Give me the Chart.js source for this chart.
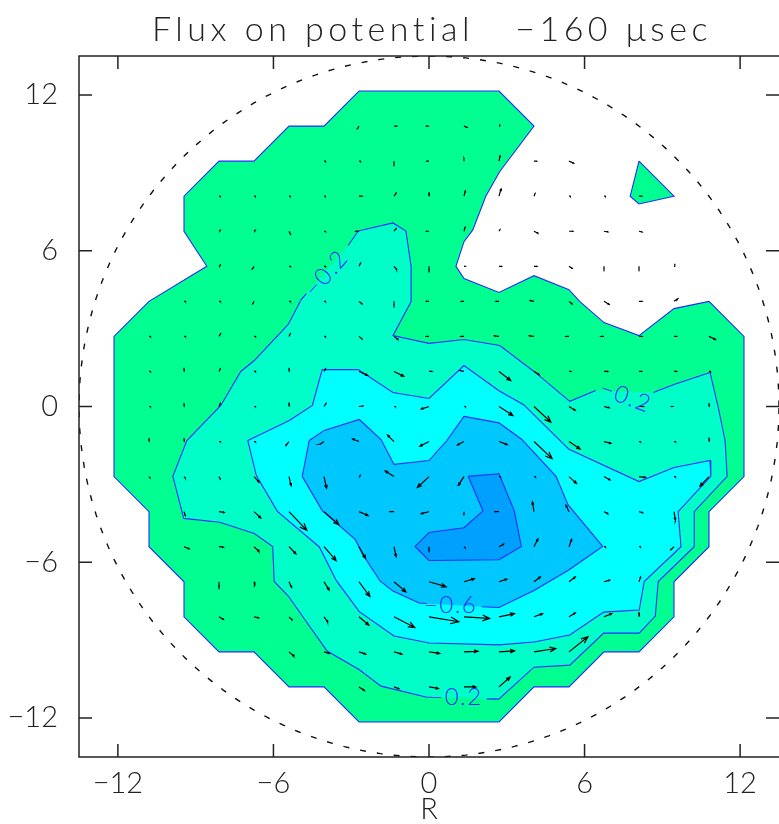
<!DOCTYPE html>
<html>
<head>
<meta charset="utf-8">
<script src="https://cdn.jsdelivr.net/npm/chart.js@4/dist/chart.umd.min.js"></script>
<style>
  html, body { margin: 0; padding: 0; background: #ffffff; }
  #wrap { width: 779px; height: 824px; }
</style>
</head>
<body>
<div id="wrap"><canvas id="c" width="779" height="824"></canvas></div>
<script>
// ---- axis ticks ----
const tickValues = [-12, -6, 0, 6, 12];

// ---- contour polygons (R, Z) ----
// level 0.0 outer boundary
const level00 = [
  [-2.7,12.15],[2.7,12.15],[4.05,10.8],[2.73,9.05],[2.19,8.1],[1.69,6.8],[1.35,6.35],[1.04,5.4],
  [1.35,4.93],[2.7,4.39],[4.05,5.04],[5.4,4.5],[5.81,4.05],[6.75,3.23],[8.1,2.73],[9.45,3.77],
  [10.8,4.05],[12.15,2.7],[12.15,-2.7],[10.8,-4.05],[10.8,-5.4],[9.45,-6.75],[9.45,-8.1],[8.1,-9.45],
  [6.75,-9.45],[5.4,-10.8],[4.05,-10.8],[2.7,-12.15],[-2.7,-12.15],[-4.05,-10.8],[-5.4,-10.8],
  [-6.75,-9.45],[-8.1,-9.45],[-9.45,-8.1],[-9.45,-6.75],[-10.8,-5.4],[-10.8,-4.05],[-12.15,-2.7],
  [-12.15,2.7],[-10.8,4.05],[-8.57,5.4],[-9.45,6.75],[-9.45,8.1],[-8.1,9.45],[-6.75,9.45],
  [-5.4,10.8],[-4.05,10.8],[-2.7,12.15]
];
// small island of level 0.0
const level00b = [[8.1,9.45],[9.45,8.1],[8.1,7.8],[7.76,8.1],[8.1,9.45]];
// level -0.2
const level02 = [
  [-2.73,6.76],[-1.39,7.07],[-0.89,6.76],[-0.69,5.39],[-0.69,4.04],[-1.39,2.73],[0,2.43],[1.35,2.58],
  [2.73,2.35],[4.05,1.35],[5.43,0.2],[6.43,0.62],[8.65,0.54],[9.45,0.85],[10.84,1.31],[11.15,0],
  [11.42,-1.31],[11.5,-2.69],[10.23,-4.05],[10.23,-5.4],[8.84,-6.74],[8.73,-8.07],[8.11,-8.73],
  [6.74,-8.73],[5.43,-9.96],[4.05,-10.04],[2.69,-11.27],[2.23,-11.26],[0.12,-11.2],[-0.12,-11.19],
  [-1.85,-10.77],[-2.7,-10.13],[-3.93,-9.42],[-5.43,-7.3],[-5.97,-6.74],[-6.03,-5.39],[-6.74,-4.89],
  [-8.07,-4.46],[-9.46,-4.31],[-9.88,-2.69],[-9.34,-1.31],[-8.03,0.04],[-7.26,1.35],[-6.74,1.77],
  [-5.43,3.16],[-4.93,4.12],[-4.73,4.35],[-3.12,6.2],[-2.73,6.76]
];
const level02Breaks = [11, 27, 46];   // segments left open for the labels
// level -0.4
const level04 = [
  [-4.12,1.42],[-2.73,1.42],[-1.39,0.54],[0,0.31],[1.35,1.58],[2.7,0.61],[3.65,0.07],[5.4,-1.65],
  [8.1,-2.89],[9.45,-2.35],[10.84,-2.08],[10.87,-2.69],[9.61,-4.05],[9.72,-5.4],[8.3,-6.74],
  [8.11,-7.84],[6.74,-7.92],[5.43,-8.8],[4.05,-9.07],[2.7,-9.18],[0,-9.11],[-1.35,-8.84],
  [-2.69,-7.9],[-3.58,-6.7],[-4.23,-5.41],[-5.85,-4.04],[-6.66,-2.66],[-6.99,-1.31],[-5.39,-0.54],
  [-4.5,0.04],[-4.12,1.42]
];
// level -0.6
const level06 = [
  [-4.62,-1.31],[-4.04,-0.92],[-2.69,-0.5],[-1.85,-1.27],[-1.35,-2.23],[0,-2.08],[0.69,-1.31],
  [1.35,-0.38],[2.7,-0.63],[3.58,-1.27],[4.9,-2.69],[5.36,-3.78],[6.7,-5.39],[5.39,-6.3],[4.05,-7.09],
  [2.7,-7.74],[2.04,-7.71],[-0.08,-7.59],[-0.38,-7.57],[-1.39,-7.11],[-1.89,-6.72],[-2.58,-5.66],
  [-2.84,-5.13],[-4.12,-4.01],[-4.89,-2.69],[-4.62,-1.31]
];
const level06Breaks = [16];
// level -0.8
const level08 = [
  [1.51,-2.69],[2.7,-2.59],[3.29,-4.02],[3.56,-5.39],[2.7,-5.9],[0,-5.93],[-0.54,-5.39],[0,-4.85],
  [1.35,-4.67],[2.08,-4.02],[1.51,-2.69]
];

// ---- contour labels: text, R, Z, angle (deg) ----
const contourLabels = [
  ['\u22120.2', -3.96, 5.12, -49],
  ['\u22120.2', 7.58, 0.38, 20],
  ['\u22120.6', 0.83, -7.67, 0],
  ['\u22120.2', 1.04, -11.21, 0]
];

// ---- flux vectors on the sampling grid ----
const gridR = [-10.8,-9.45,-8.1,-6.75,-5.4,-4.05,-2.7,-1.35,0,1.35,2.7,4.05,5.4,6.75,8.1,9.45,10.8];
const gridZ = [10.8,9.45,8.1,6.75,5.4,4.05,2.7,1.35,0,-1.35,-2.7,-4.05,-5.4,-6.75,-8.1,-9.45,-10.8];
const n = null;
const fluxU = [
  [n,n,n,n,n,n,-0.06,0.1,-0.1,0.12,0.03,n,n,n,n,n,n],
  [n,n,n,n,n,0.07,0.07,0,-0.08,0,0.04,0.1,0.18,n,n,n,n],
  [n,n,0.06,0.06,0.06,0.06,0.12,0.08,0,0.05,0.08,0.04,0.06,0.06,0.1,n,n],
  [n,n,0.05,0.05,0.06,0.07,-0.12,0.08,-0.1,0.04,0.04,0.15,0.15,0.15,0.12,n,n],
  [n,n,0.05,-0.06,0.07,0.07,0.06,0.1,0,0.05,0.1,0.12,0.12,0,0,0.03,n],
  [n,0.07,0.07,-0.05,0.07,0.07,0.12,0,-0.1,-0.1,-0.12,-0.15,0.12,0.2,0.12,0.15,n],
  [0.07,0.07,0.06,0.07,0.05,0.07,0.12,0.15,-0.1,-0.12,-0.18,-0.18,-0.12,-0.12,0.12,0.1,0.25],
  [0.07,0,0.05,0.07,0,0.06,0.33,0.38,0.12,-0.15,0.45,0.2,0.08,0.15,0.1,0.1,0.07],
  [0.07,0,0.05,0.07,0,0.08,0.15,0.07,-0.3,0.07,0.54,0.65,0.24,0.2,0.18,-0.1,0],
  [0,0,0.07,0.07,-0.12,-0.15,-0.25,-0.25,-0.35,-0.25,0.32,0.7,0.43,0.27,0.07,0.07,0],
  [0.04,0.05,0.05,0.2,0.08,0.1,0.05,-0.34,-0.45,-0.22,0.07,0.07,0.29,0.23,0.25,0.07,-0.35],
  [n,0.05,0.2,0.26,0.69,0.57,0.35,-0.15,-0.3,0,-0.15,-0.06,-0.12,0.15,0.14,0.05,n],
  [n,0.2,0.17,0.19,0.27,0.47,0.25,0.08,0,0.05,0.18,0.15,0.1,0.07,0.07,-0.12,n],
  [n,n,0,0.03,0.1,0.2,0.42,0.46,0.66,0.4,0.3,0.24,0.24,0.22,0.06,n,n],
  [n,n,0.17,0.18,0.12,0.14,0.38,0.8,1.15,0.99,0.6,0.33,0.24,0.3,0,n,n],
  [n,n,n,n,0.19,0.2,0.26,0.31,0.41,0.54,0.6,0.84,0.73,n,n,n,n],
  [n,n,n,n,n,n,0.21,0.19,0.36,0.46,0.43,n,n,n,n,n,n]
];
const fluxV = [
  [n,n,n,n,n,n,-0.1,0,0,-0.05,0.08,n,n,n,n,n,n],
  [n,n,n,n,n,0,0,-0.1,0,0.1,0.2,0,-0.08,n,n,n,n],
  [n,n,0,0,0,0,0,0.12,0.12,0.2,0.28,0.1,0,0,0,n,n],
  [n,n,0.04,0.04,-0.12,0,0,0.1,0,0.15,0.06,-0.08,0,-0.03,-0.03,n,n],
  [n,n,0.05,-0.1,0,0,0.12,-0.12,-0.15,0,0,0,-0.08,-0.1,-0.1,0.1,n],
  [n,0,0,-0.1,0,0,-0.1,-0.15,0,0,0,0.03,-0.1,-0.12,0,0.1,n],
  [0,0,0.1,0,0.1,0,-0.1,-0.12,0,0,0.02,0.02,0,0,0,0,-0.12],
  [0,0.1,0.1,0,0.1,0.1,-0.15,-0.19,0,0.03,-0.35,-0.12,0,0,0,0,0],
  [0,0.1,0.12,0,0.12,0.12,0.02,0,-0.1,0,-0.35,-0.6,-0.15,-0.05,0,0,0.1],
  [0.1,0.1,0,0,-0.15,-0.1,0.1,0.25,-0.18,-0.13,-0.12,-0.66,-0.29,-0.07,0,0,0.12],
  [-0.05,-0.05,-0.1,-0.22,-0.35,-0.45,0.05,0.22,-0.42,-0.33,0,0,-0.26,-0.13,-0.03,0,-0.37],
  [n,-0.15,-0.03,-0.24,-0.72,-0.5,-0.15,0,-0.08,-0.12,0,0.37,0.25,-0.08,-0.04,-0.32,n],
  [n,-0.08,-0.02,-0.18,-0.28,-0.54,-0.45,-0.38,-0.12,-0.04,0.1,0.3,0.28,0,0,-0.12,n],
  [n,n,-0.2,-0.15,-0.22,-0.32,-0.57,-0.39,-0.19,0.12,0.1,0.18,0.18,0.06,0.18,n,n],
  [n,n,-0.1,-0.04,-0.12,-0.19,-0.32,-0.41,-0.19,-0.06,0.12,0.12,0.15,0.12,0.15,n,n],
  [n,n,n,n,-0.17,-0.06,-0.09,-0.09,-0.06,0.02,0.04,0.13,0.58,n,n,n,n],
  [n,n,n,n,n,n,-0.14,-0.07,-0.06,0,0.38,n,n,n,n,n,n]
];

const wallRadius = 13.5;

// ---- styling ----
const FONT = 'Lato, "DejaVu Sans", sans-serif';
const LINE_BLUE = 'rgb(40,40,255)';
const FILLS = ['#00ff90', '#00ffc8', '#00ffff', '#00c8ff', '#00a0ff'];
const GAP = { x: NaN, y: NaN };

const toPts = arr => arr.map(p => ({ x: p[0], y: p[1] }));

// a filled band (no outline) and its outline drawn separately,
// so the outline can be opened where a level label sits
function contourSets(poly, fillColor, order, breaks) {
  const outline = [];
  poly.forEach((p, i) => {
    outline.push({ x: p[0], y: p[1] });
    if (breaks && breaks.includes(i)) outline.push(GAP);
  });
  return [
    {
      data: toPts(poly),
      borderWidth: 0,
      borderColor: 'rgba(0,0,0,0)',
      backgroundColor: fillColor,
      fill: 'shape',
      pointRadius: 0,
      tension: 0,
      order: order + 0.5
    },
    {
      data: outline,
      borderColor: LINE_BLUE,
      borderWidth: 1.1,
      fill: false,
      pointRadius: 0,
      tension: 0,
      spanGaps: false,
      order: order
    }
  ];
}

// arrows: shaft + open head, split by NaN gaps
function arrowPoints() {
  const pts = [];
  const headAng = 22 * Math.PI / 180;
  for (let r = 0; r < gridZ.length; r++) {
    for (let c = 0; c < gridR.length; c++) {
      const u = fluxU[r][c], v = fluxV[r][c];
      if (u === null || v === null) continue;
      const len = Math.hypot(u, v);
      if (len === 0) continue;
      const x0 = gridR[c], y0 = gridZ[r];
      const x1 = x0 + u, y1 = y0 + v;
      const h = 0.3 * len;
      const a = Math.atan2(v, u);
      pts.push({ x: x0, y: y0 }, { x: x1, y: y1 }, GAP);
      pts.push({ x: x1 - h * Math.cos(a - headAng), y: y1 - h * Math.sin(a - headAng) },
               { x: x1, y: y1 },
               { x: x1 - h * Math.cos(a + headAng), y: y1 - h * Math.sin(a + headAng) }, GAP);
    }
  }
  return pts;
}

function circlePoints() {
  const pts = [];
  for (let d = 0; d <= 360; d += 2) {
    const t = d * Math.PI / 180;
    pts.push({ x: wallRadius * Math.cos(t), y: wallRadius * Math.sin(t) });
  }
  return pts;
}

const fmtTick = v => (v < 0 ? '\u2212' + Math.abs(v) : String(v));

// frame with inward ticks on all four sides
const framePlugin = {
  id: 'frame',
  afterDatasetsDraw(chart) {
    const { ctx, chartArea: a, scales: { x, y } } = chart;
    ctx.save();
    ctx.strokeStyle = '#222';
    ctx.lineWidth = 1.5;
    ctx.beginPath();
    ctx.moveTo(a.right, a.top); ctx.lineTo(a.left, a.top);
    ctx.lineTo(a.left, a.bottom); ctx.lineTo(a.right, a.bottom);
    const tl = 13;
    tickValues.forEach(v => {
      const px = x.getPixelForValue(v);
      ctx.moveTo(px, a.bottom); ctx.lineTo(px, a.bottom - tl);
      ctx.moveTo(px, a.top); ctx.lineTo(px, a.top + tl);
      const py = y.getPixelForValue(v);
      ctx.moveTo(a.left, py); ctx.lineTo(a.left + tl, py);
      ctx.moveTo(a.right, py); ctx.lineTo(a.right - tl, py);
    });
    ctx.stroke();
    ctx.restore();
  }
};

// level labels placed on the contour lines
const labelPlugin = {
  id: 'contourLabels',
  afterDatasetsDraw(chart) {
    const { ctx, scales: { x, y } } = chart;
    ctx.save();
    ctx.fillStyle = LINE_BLUE;
    ctx.font = '300 24px ' + FONT;
    ctx.letterSpacing = '1.5px';
    ctx.textAlign = 'center';
    ctx.textBaseline = 'middle';
    contourLabels.forEach(([txt, r, z, ang]) => {
      ctx.save();
      ctx.translate(x.getPixelForValue(r), y.getPixelForValue(z));
      ctx.rotate(ang * Math.PI / 180);
      ctx.fillText(txt, 0, 0);
      ctx.restore();
    });
    ctx.restore();
  }
};

const titlePlugin = {
  id: 'plotTitle',
  afterDraw(chart) {
    const { ctx } = chart;
    ctx.save();
    ctx.fillStyle = '#222';
    ctx.font = '300 34px ' + FONT;
    ctx.letterSpacing = '4.5px';
    ctx.textAlign = 'center';
    ctx.textBaseline = 'alphabetic';
    ctx.fillText('Flux on potential   \u2212160 \u03bcsec', 432, 41);
    ctx.restore();
  }
};

const axisFont = { family: FONT, size: 29, weight: 300 };

new Chart(document.getElementById('c'), {
  type: 'line',
  data: {
    datasets: [
      ...contourSets(level00, FILLS[0], 10),
      ...contourSets(level00b, FILLS[0], 9),
      ...contourSets(level02, FILLS[1], 8, level02Breaks),
      ...contourSets(level04, FILLS[2], 7),
      ...contourSets(level06, FILLS[3], 6, level06Breaks),
      ...contourSets(level08, FILLS[4], 5),
      {
        data: circlePoints(),
        borderColor: '#111',
        borderWidth: 1.4,
        borderDash: [6, 11],
        pointRadius: 0,
        fill: false,
        order: 2
      },
      {
        data: arrowPoints(),
        borderColor: '#000',
        borderWidth: 1.2,
        pointRadius: 0,
        fill: false,
        spanGaps: false,
        order: 1
      }
    ]
  },
  options: {
    responsive: false,
    animation: false,
    events: [],
    layout: { padding: { top: 56, right: -2, bottom: 0, left: 0 } },
    plugins: { legend: { display: false }, tooltip: { enabled: false } },
    scales: {
      x: {
        type: 'linear', min: -13.5, max: 13.5,
        grid: { display: false }, border: { display: false },
        afterBuildTicks: s => { s.ticks = tickValues.map(v => ({ value: v })); },
        afterFit: s => { s.height = 67; },
        ticks: { font: axisFont, color: '#222', padding: 1, maxRotation: 0, autoSkip: false, callback: fmtTick },
        title: { display: true, text: 'R', font: axisFont, color: '#222', padding: { top: 0, bottom: -3 } }
      },
      y: {
        type: 'linear', min: -13.5, max: 13.5,
        grid: { display: false }, border: { display: false },
        afterBuildTicks: s => { s.ticks = tickValues.map(v => ({ value: v })); },
        afterFit: s => { s.width = 79; },
        ticks: { font: axisFont, color: '#222', padding: 13, autoSkip: false, callback: fmtTick }
      }
    }
  },
  plugins: [framePlugin, labelPlugin, titlePlugin]
});
</script>
</body>
</html>
